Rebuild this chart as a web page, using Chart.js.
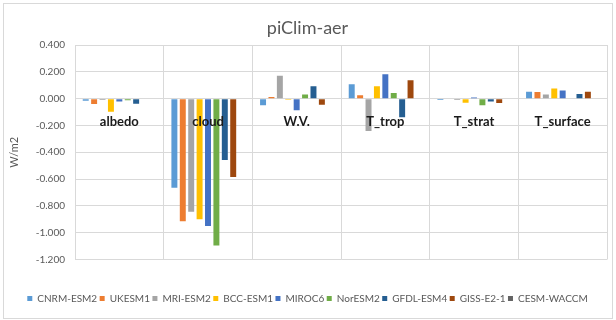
<!DOCTYPE html>
<html>
<head>
<meta charset="utf-8">
<script src="https://cdn.jsdelivr.net/npm/chart.js@4.4.1/dist/chart.umd.min.js"></script>
<style>
  html, body { margin: 0; padding: 0; background: #ffffff; }
  #frame {
    position: absolute; left: 3px; top: 3px;
    width: 608px; height: 314px;
    border: 1px solid #d9d9d9; background: #ffffff;
  }
  #chart { display: block; }
</style>
</head>
<body>
<div id="frame"><canvas id="chart" width="608" height="314"></canvas></div>
<script>
// Forcing terms (W/m2) per model for the piClim-aer experiment
const categories = ['albedo', 'cloud', 'W.V.', 'T_trop', 'T_strat', 'T_surface'];
const models = ['CNRM-ESM2', 'UKESM1', 'MRI-ESM2', 'BCC-ESM1', 'MIROC6', 'NorESM2', 'GFDL-ESM4', 'GISS-E2-1', 'CESM-WACCM'];

const cnrmEsm2  = [-0.015, -0.665, -0.050,  0.107, -0.010, 0.052];
const ukesm1    = [-0.040, -0.914,  0.013,  0.025,  0.000, 0.050];
const mriEsm2   = [-0.010, -0.843,  0.170, -0.242, -0.010, 0.030];
const bccEsm1   = [-0.097, -0.900, -0.008,  0.092, -0.030, 0.075];
const miroc6    = [-0.022, -0.950, -0.087,  0.182,  0.008, 0.060];
const norEsm2   = [-0.012, -1.095,  0.030,  0.042, -0.050, 0.000];
const gfdlEsm4  = [-0.038, -0.457,  0.092, -0.138, -0.022, 0.035];
const gissE21   = [ 0.000, -0.584, -0.045,  0.137, -0.033, 0.052];
const cesmWaccm = [null, null, null, null, null, null];

const yTicks = [0.4, 0.2, 0.0, -0.2, -0.4, -0.6, -0.8, -1.0, -1.2];

const seriesValues = [cnrmEsm2, ukesm1, mriEsm2, bccEsm1, miroc6, norEsm2, gfdlEsm4, gissE21, cesmWaccm];
const seriesColors = ['#5B9BD5', '#ED7D31', '#A5A5A5', '#FFC000', '#4472C4', '#70AD47', '#255E91', '#9E480E', '#636363'];

const gridColor = '#d9d9d9';
const textGrey = '#595959';
const fontFamily = 'Lato, "Open Sans", sans-serif';

new Chart(document.getElementById('chart'), {
  type: 'bar',
  data: {
    labels: categories,
    datasets: models.map((name, i) => ({
      label: name,
      data: seriesValues[i],
      backgroundColor: seriesColors[i],
      borderWidth: 0,
      categoryPercentage: 0.853,
      barPercentage: 0.71
    }))
  },
  options: {
    responsive: false,
    animation: false,
    devicePixelRatio: 1,
    layout: { padding: { left: 4, right: 5, top: 0, bottom: 4.5 } },
    plugins: {
      tooltip: { enabled: false },
      title: {
        display: true,
        text: 'piClim-aer',
        color: textGrey,
        font: { family: fontFamily, size: 18, weight: 'normal' },
        padding: { top: 13, bottom: 6.4 }
      },
      legend: {
        position: 'bottom',
        // empty title only spaces the legend row away from the plot
        title: { display: true, text: '', font: { size: 10 }, padding: { top: 19.5, bottom: 0 } },
        labels: {
          boxWidth: 5,
          boxHeight: 5,
          padding: 2.5,
          color: textGrey,
          font: { family: fontFamily, size: 10 }
        }
      }
    },
    scales: {
      x: {
        position: { y: 0 },
        grid: { color: gridColor, lineWidth: 1, drawTicks: false, offset: true },
        border: { color: gridColor, width: 1 },
        ticks: {
          z: 1,
          color: '#1a1a1a',
          padding: 15,
          font: { family: fontFamily, size: 13, weight: 'bold' }
        }
      },
      y: {
        min: -1.2,
        max: 0.4,
        afterFit: (scale) => { scale.width = 67; },
        afterBuildTicks: (scale) => { scale.ticks = yTicks.map(v => ({ value: v })); },
        grid: { color: gridColor, lineWidth: 1, drawTicks: false },
        border: { color: gridColor, width: 1 },
        ticks: {
          color: textGrey,
          padding: 10,
          font: { family: fontFamily, size: 10 },
          callback: (v) => Number(v).toFixed(3)
        },
        title: {
          display: true,
          text: 'W/m2',
          color: textGrey,
          padding: 0,
          font: { family: fontFamily, size: 11 }
        }
      }
    }
  }
});
</script>
</body>
</html>
